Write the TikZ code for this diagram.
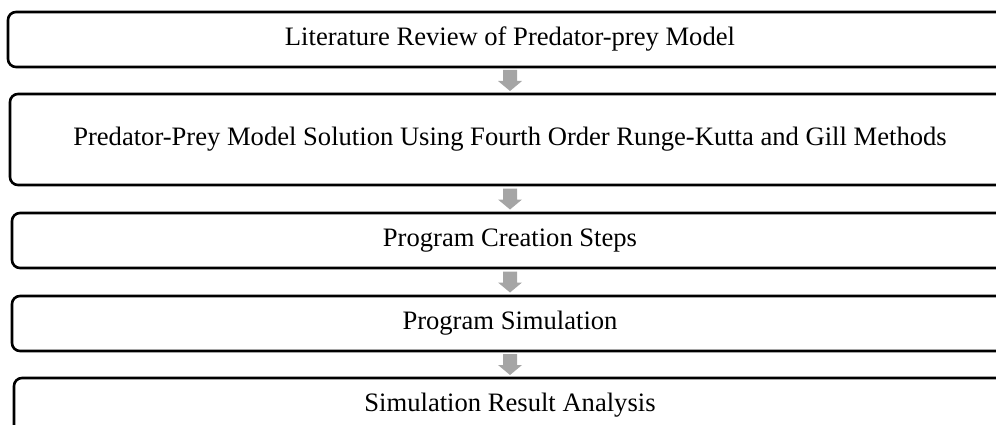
\documentclass[tikz,border=0pt]{standalone}
\usepackage{fontspec}
\setmainfont{Liberation Serif}
\usetikzlibrary{calc}

\newcommand{\grayarrow}[1]{\fill[arrowgray] #1 ++(-7,-10.5) -- ++(14,0) -- ++(0,11) -- ++(5,0) -- ++(-12,10) -- ++(-12,-10) -- ++(5,0) -- cycle;}

\begin{document}
\begin{tikzpicture}[x=1pt,y=-1pt]
	\definecolor{arrowgray}{RGB}{165,165,165}
	\tikzset{
		stepbox/.style={draw, line width=2.6pt, rounded corners=8pt, minimum height=55pt,
			inner sep=0pt, font=\fontsize{26.6}{30}\selectfont}
	}
	\useasboundingbox (0,0) rectangle (996,425);
	\clip (0,0) rectangle (996,425);

	% steps
	\node[stepbox, minimum width=1004pt] (lit) at (510,39.5) {Literature Review of Predator-prey Model};
	\node[stepbox, minimum width=1000pt, minimum height=91pt] (sol) at (510,139.5) {Predator-Prey Model Solution Using Fourth Order Runge-Kutta and Gill Methods};
	\node[stepbox, minimum width=996pt] (prog) at (510,240.5) {Program Creation Steps};
	\node[stepbox, minimum width=996pt] (sim) at (510,323.5) {Program Simulation};
	\node[stepbox, minimum width=992pt] (res) at (510,405.5) {Simulation Result Analysis};

	% arrows
	\grayarrow{($(lit.south)!0.5!(sol.north)$)}
	\grayarrow{($(sol.south)!0.5!(prog.north)$)}
	\grayarrow{($(prog.south)!0.5!(sim.north)$)}
	\grayarrow{($(sim.south)!0.5!(res.north)$)}
\end{tikzpicture}
\end{document}
